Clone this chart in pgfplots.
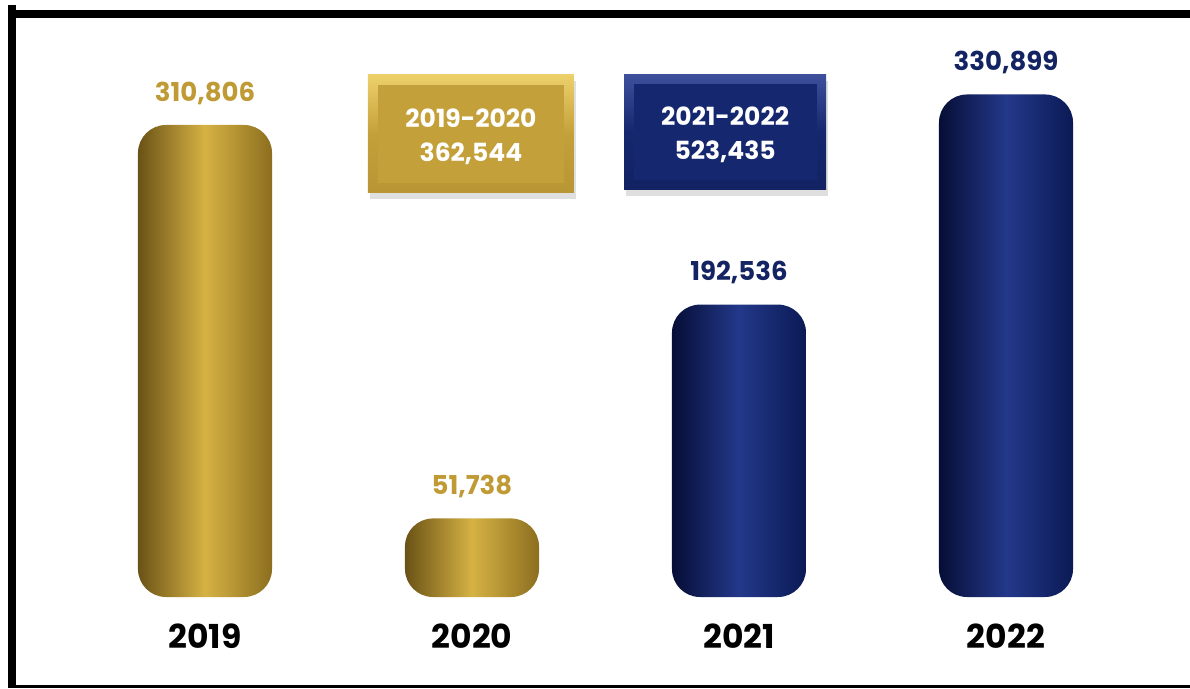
\documentclass[border=0pt]{standalone}
\usepackage{pgfplots}
\pgfplotsset{compat=1.18}
\usepackage{pgfplotstable}
\usepackage{fontspec}
\setmainfont{Poppins}
\usetikzlibrary{shadows,calc}
\definecolor{goldtxt}{HTML}{BF9A35}
\definecolor{navytxt}{HTML}{142463}
\definecolor{goldA}{HTML}{C4A03A}
\definecolor{goldM}{HTML}{D6B244}
\definecolor{goldD}{HTML}{6A5216}
\definecolor{goldR}{HTML}{8C6E1F}
\definecolor{goldL}{HTML}{EDD06A}
\definecolor{navyA}{HTML}{15276E}
\definecolor{navyM}{HTML}{23388A}
\definecolor{navyD}{HTML}{060E36}
\definecolor{navyR}{HTML}{0B1A55}
\definecolor{navyL}{HTML}{3E509C}
\pgfplotstableread{
x y label
0 310806 {310,806}
}\tabA
\pgfplotstableread{
x y label
1 51738 {51,738}
}\tabB
\pgfplotstableread{
x y label
2 192536 {192,536}
}\tabC
\pgfplotstableread{
x y label
3 330899 {330,899}
}\tabD
\begin{document}
\begin{tikzpicture}
\begin{axis}[
  scale only axis, width=595pt, height=344pt,
  xmin=-0.76779, xmax=3.68914, ymin=-59920, ymax=393100,
  axis line style={draw=none}, xtick=\empty, ytick=\empty,
  point meta=explicit symbolic,
  nodes near coords={\pgfplotspointmeta},
  every node near coord/.append style={anchor=south, inner sep=0pt, yshift=10pt, font=\fontsize{13}{15}\selectfont\bfseries},
  goldbar/.style={ybar, bar width=0.502, bar shift=0pt, draw=none, rounded corners=14pt,
    left color=goldD, right color=goldR, middle color=goldM,
    every node near coord/.append style={text=goldtxt}},
  navybar/.style={ybar, bar width=0.502, bar shift=0pt, draw=none, rounded corners=14pt,
    left color=navyD, right color=navyR, middle color=navyM,
    every node near coord/.append style={text=navytxt}},
]
\coordinate (SW) at (rel axis cs:0,0);
\coordinate (NE) at (rel axis cs:1,1);
\addplot[goldbar] table[x=x, y=y, meta=label] {\tabA};
\addplot[goldbar] table[x=x, y=y, meta=label] {\tabB};
\addplot[navybar] table[x=x, y=y, meta=label] {\tabC};
\addplot[navybar] table[x=x, y=y, meta=label] {\tabD};
% boxes
\node[drop shadow={opacity=0.25, shadow xshift=1pt, shadow yshift=-3pt}, minimum width=103pt, minimum height=59pt, inner sep=0pt,
  top color=goldL, bottom color=goldA!80!goldR, middle color=goldA] (A) at (axis cs:0.996,304870) {};
\fill[goldA] ($(A.south west)+(5pt,5pt)$) rectangle ($(A.north east)-(5pt,5pt)$);
\node[text=white, align=center, yshift=-1.5pt, font=\fontsize{12.5}{17}\selectfont\bfseries] at (A) {2019-2020\\362,544};
\node[drop shadow={opacity=0.25, shadow xshift=1pt, shadow yshift=-3pt}, minimum width=101pt, minimum height=57.5pt, inner sep=0pt,
  top color=navyL, bottom color=navyA!80!navyD, middle color=navyA] (B) at (axis cs:1.948,306180) {};
\fill[navyA] ($(B.south west)+(5pt,5pt)$) rectangle ($(B.north east)-(5pt,5pt)$);
\node[text=white, align=center, yshift=-1.5pt, font=\fontsize{12.5}{17}\selectfont\bfseries] at (B) {2021-2022\\523,435};
% year labels
\node[font=\fontsize{16.5}{20}\selectfont\bfseries, text=black] at (axis cs:0,-25680) {2019};
\node[font=\fontsize{16.5}{20}\selectfont\bfseries, text=black] at (axis cs:1,-25680) {2020};
\node[font=\fontsize{16.5}{20}\selectfont\bfseries, text=black] at (axis cs:2,-25680) {2021};
\node[font=\fontsize{16.5}{20}\selectfont\bfseries, text=black] at (axis cs:3,-25680) {2022};
% frame
\draw[line width=4pt, line cap=butt] (axis cs:-0.7378,383880) -- (axis cs:3.69,383880);
\draw[line width=4pt, line cap=butt] (axis cs:-0.7228,390000) -- (axis cs:-0.7228,-59920);
\draw[line width=1.5pt] (axis cs:-0.7378,-58930) -- (axis cs:3.69,-58930);
\end{axis}
\pgfresetboundingbox
\useasboundingbox (SW) rectangle (NE);
\end{tikzpicture}
\end{document}
